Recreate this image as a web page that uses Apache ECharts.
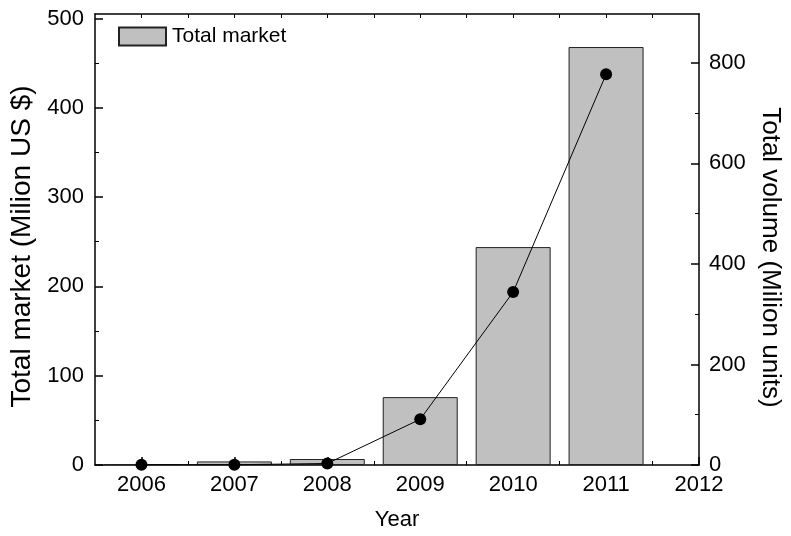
<!DOCTYPE html>
<html>
<head>
<meta charset="utf-8">
<script src="https://cdn.jsdelivr.net/npm/echarts@6/dist/echarts.min.js"></script>
<style>
html,body{margin:0;padding:0;background:#fff;overflow:hidden;}
#chart{width:791px;height:536px;}
</style>
</head>
<body>
<div id="chart"></div>
<script>
const years = [2006, 2007, 2008, 2009, 2010, 2011];
const marketValues = [1, 4, 6.7, 76, 244, 468];
const volumeValues = [0.5, 0.5, 3, 91, 344, 777];
const xTickLabels = [2006, 2007, 2008, 2009, 2010, 2011, 2012];
const xMinorTicks = [2006.5, 2007.5, 2008.5, 2009.5, 2010.5, 2011.5];
const xTopTicks = [2006, 2006.5, 2007, 2007.5, 2008, 2008.5, 2009, 2009.5, 2010, 2010.5, 2011, 2011.5];
const leftTicks = [0, 100, 200, 300, 400, 500];
const leftMinorTicks = [50, 150, 250, 350, 450];
const rightTicks = [0, 200, 400, 600, 800];
const rightMinorTicks = [100, 300, 500, 700];

const FONT = 'Liberation Sans, Arial, sans-serif';
const chart = echarts.init(document.getElementById('chart'));

const lineStyle = {color: '#000', width: 1.5};
const thin = {color: '#000', width: 1};
const labelStyle = {color: '#000', fontFamily: FONT, fontSize: 22};

chart.setOption({
  animation: false,
  backgroundColor: '#fff',
  grid: {left: 95, right: 84, top: 14, bottom: 67, containLabel: false},
  legend: {
    data: [{name: 'Total market', icon: 'rect'}],
    left: 113, top: 21,
    itemWidth: 47, itemHeight: 18,
    textStyle: {color: '#000', fontFamily: FONT, fontSize: 21, padding: [0, 0, 0, 1]}
  },
  xAxis: [
    {
      type: 'value', position: 'bottom', min: 2005.5, max: 2012,
      name: 'Year', nameLocation: 'middle', nameGap: 44,
      nameTextStyle: {color: '#000', fontFamily: FONT, fontSize: 22},
      axisLine: {show: true, onZero: false, lineStyle: lineStyle},
      axisTick: {show: true, inside: true, length: 8, customValues: xTickLabels, lineStyle: lineStyle},
      axisLabel: Object.assign({customValues: xTickLabels, margin: 9, formatter: v => String(v)}, labelStyle),
      splitLine: {show: false}
    },
    {
      type: 'value', position: 'bottom', min: 2005.5, max: 2012,
      axisLine: {show: false, onZero: false},
      axisTick: {show: true, inside: true, length: 4, customValues: xMinorTicks, lineStyle: thin},
      axisLabel: {show: false},
      splitLine: {show: false}
    },
    {
      type: 'value', position: 'top', min: 2005.5, max: 2012,
      axisLine: {show: true, onZero: false, lineStyle: lineStyle},
      axisTick: {show: true, inside: true, length: 4, customValues: xTopTicks, lineStyle: thin},
      axisLabel: {show: false},
      splitLine: {show: false}
    }
  ],
  yAxis: [
    {
      type: 'value', position: 'left', min: 0, max: 505,
      name: 'Total market (Milion US $)', nameLocation: 'middle', nameGap: 49,
      nameTextStyle: {color: '#000', fontFamily: FONT, fontSize: 28, padding: [0, 14, 0, 0]},
      axisLine: {show: true, onZero: false, lineStyle: lineStyle},
      axisTick: {show: true, inside: true, length: 8, customValues: leftTicks, lineStyle: lineStyle},
      axisLabel: Object.assign({customValues: leftTicks, margin: 11}, labelStyle),
      splitLine: {show: false}
    },
    {
      type: 'value', position: 'right', min: 0, max: 897,
      name: 'Total volume (Milion units)', nameLocation: 'middle', nameGap: 58, nameRotate: -90,
      nameTextStyle: {color: '#000', fontFamily: FONT, fontSize: 26, padding: [0, 0, 0, 36]},
      axisLine: {show: true, onZero: false, lineStyle: lineStyle},
      axisTick: {show: true, inside: true, length: 8, customValues: rightTicks, lineStyle: lineStyle},
      axisLabel: Object.assign({customValues: rightTicks, margin: 10}, labelStyle),
      splitLine: {show: false}
    },
    {
      type: 'value', position: 'left', min: 0, max: 505,
      axisLine: {show: false, onZero: false},
      axisTick: {show: true, inside: true, length: 4, customValues: leftMinorTicks, lineStyle: thin},
      axisLabel: {show: false},
      splitLine: {show: false}
    },
    {
      type: 'value', position: 'right', min: 0, max: 897,
      axisLine: {show: false, onZero: false},
      axisTick: {show: true, inside: true, length: 4, customValues: rightMinorTicks, lineStyle: thin},
      axisLabel: {show: false},
      splitLine: {show: false}
    }
  ],
  series: [
    {
      name: 'Total market', type: 'bar', xAxisIndex: 0, yAxisIndex: 0,
      barWidth: 75,
      itemStyle: {color: '#c0c0c0', borderColor: '#222', borderWidth: 1},
      data: years.map((y, i) => [y, marketValues[i]])
    },
    {
      name: 'Total volume', type: 'line', xAxisIndex: 0, yAxisIndex: 1,
      symbol: 'circle', symbolSize: 12,
      lineStyle: {color: '#000', width: 1},
      itemStyle: {color: '#000'},
      z: 5,
      data: years.map((y, i) => [y, volumeValues[i]])
    }
  ]
});
</script>
</body>
</html>
